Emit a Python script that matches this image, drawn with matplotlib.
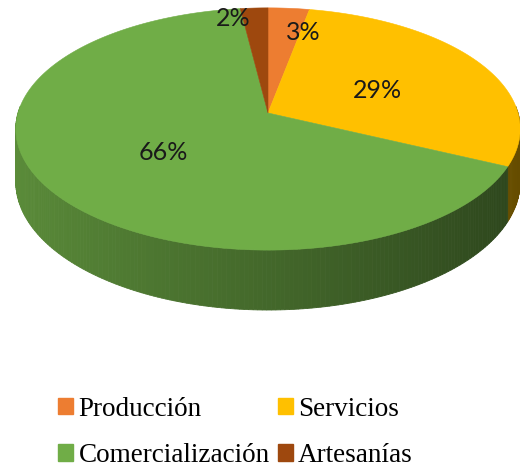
import numpy as np
import matplotlib
matplotlib.use("Agg")
import matplotlib.pyplot as plt
from matplotlib.patches import Polygon, Patch
from matplotlib.colors import to_rgb

categories = ["Producción", "Servicios", "Comercialización", "Artesanías"]
shares = [3, 29, 66, 2]
colors = ["#ED7D31", "#FFC000", "#70AD47", "#9E480E"]
pct_labels = ["3%", "29%", "66%", "2%"]
label_xy = [(303, 32), (377, 90), (163, 153), (233, 18)]

# projection of the tilted disc (pixel space)
cx, cy = 268, 113
A, B, K = 250, 119, 0.132
D = 52


def proj(phi, z=0.0):
    u, v = np.sin(phi), np.cos(phi)
    d = 1 + K * v
    return cx + A * u / d, cy - B * v / d + D * z / d


fig = plt.figure(figsize=(5.2, 4.68), dpi=100)
ax = fig.add_axes([0, 0, 1, 1])
ax.set_xlim(0, 520)
ax.set_ylim(468, 0)
ax.axis("off")

fracs = np.array(shares) / sum(shares)
edges = np.concatenate([[0], np.cumsum(fracs)]) * 2 * np.pi

# side walls (front half only), shaded from left to right
for i, col in enumerate(colors):
    base = np.array(to_rgb(col))
    t = np.linspace(edges[i], edges[i + 1], max(int(fracs[i] * 400), 4))
    for a0, a1 in zip(t[:-1], t[1:]):
        if np.cos((a0 + a1) / 2) > 0.05:
            continue
        x0, y0 = proj(a0)
        x1, y1 = proj(a1)
        x2, y2 = proj(a1, 1)
        x3, y3 = proj(a0, 1)
        u = np.sin((a0 + a1) / 2)
        f = 0.60 - 0.21 * u
        c = np.clip(base * f, 0, 1)
        ax.add_patch(Polygon([(x0, y0), (x1, y1), (x2, y2), (x3, y3)],
                             closed=True, fc=c, ec=c, lw=0.6))

# top faces
for i, col in enumerate(colors):
    t = np.linspace(edges[i], edges[i + 1], 200)
    xs, ys = proj(t)
    pts = [(cx, cy)] + list(zip(xs, ys))
    ax.add_patch(Polygon(pts, closed=True, fc=col, ec=col, lw=0.4))

for txt, (x, y) in zip(pct_labels, label_xy):
    ax.text(x, y, txt, ha="center", va="center", fontsize=18,
            family="Lato", color="#1a1a1a")

order = [0, 2, 1, 3]
handles = [Patch(fc=colors[i], ec=colors[i]) for i in order]
fig.legend(handles, [categories[i] for i in order], ncol=2,
           loc="upper left", bbox_to_anchor=(0.112, 0.152),
           frameon=False, borderpad=0, borderaxespad=0,
           handlelength=0.55, handleheight=0.55, handletextpad=0.2,
           columnspacing=0.3, labelspacing=0.78,
           prop={"family": "Liberation Serif", "size": 19.5})

fig.savefig("out.png", dpi=100)
